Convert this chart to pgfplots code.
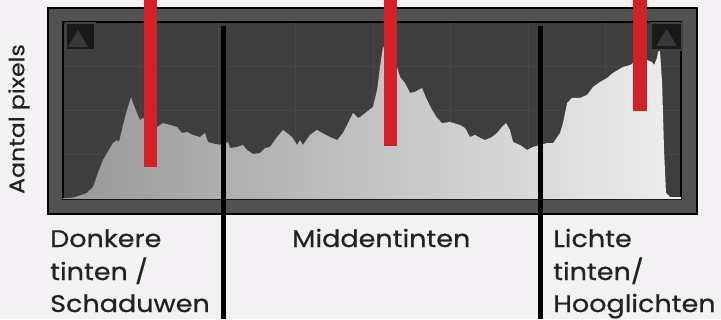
\documentclass[border=0pt]{standalone}
\usepackage{pgfplots}
\usepackage{pgfplotstable}
\pgfplotsset{compat=1.18}
\usepackage{fontspec}
\setmainfont{Poppins}
\newfontfamily\labfont{Poppins}[FakeStretch=1.13, FakeBold=0.6]
\definecolor{bgc}{HTML}{F3F1F3}
\definecolor{framec}{HTML}{525252}
\definecolor{plotbg}{HTML}{3E3E3E}
\definecolor{gridc}{HTML}{474747}
\definecolor{histL}{HTML}{989898}
\definecolor{histR}{HTML}{EEEEEE}
\definecolor{redbar}{HTML}{D22128}
\definecolor{txt}{HTML}{222222}
\pgfplotstableread{
level value
0 0.5
3 0.6
5 1.1
9.9 3.4
12.4 6.8
14.4 14.7
16.5 22.0
18.2 26.0
20.6 31.6
22.3 33.3
23.1 32.2
24.3 39.0
25.6 46.3
26.8 52.0
28.1 57.6
28.9 54.2
30.5 48.6
31.8 44.6
33.0 45.8
35.9 43.5
38.8 40.7
41.3 42.9
44.2 41.8
47.0 40.7
49.1 37.3
51.2 37.9
53.6 36.2
56.5 35.0
58.6 37.3
59.8 32.2
62.7 31.1
65.6 30.5
68.1 32.2
68.9 28.8
71.8 29.4
74.3 30.5
75.9 27.7
78.4 25.4
81.3 26.0
83.4 28.8
85.4 29.4
88.3 35.0
90.8 39.0
92.4 37.3
94.5 35.0
96.6 30.5
97.8 33.3
99.0 30.5
101.9 36.2
104.8 39.0
106.9 37.3
110.2 35.0
113.1 33.3
115.5 37.3
117.6 42.9
119.7 48.6
121.7 45.8
122.6 46.3
127.9 52.0
129.6 61.6
130.8 74.6
132.0 85.9
134.9 83.0
137.8 74.6
139.1 68.9
141.1 65.5
143.2 59.9
145.2 60.5
148.1 62.7
150.2 55.9
152.3 50.3
154.3 45.8
156.4 42.9
159.7 43.5
163.8 41.8
165.9 40.1
167.9 35.0
170.0 36.2
172.1 34.5
174.1 33.3
177.0 35.0
179.1 37.3
181.1 40.7
182.8 42.9
184.4 39.0
185.7 32.2
188.6 30.5
191.5 27.7
193.9 29.4
196.8 30.5
199.7 31.6
202.2 31.6
205.1 37.3
206.3 42.9
208.0 54.2
210.0 57.1
213.3 57.1
216.2 58.8
218.7 63.3
221.6 66.1
224.5 68.4
226.9 71.2
231.1 74.6
234.0 75.7
235.2 76.8
238.1 78.0
241.0 78.5
243.0 77.4
243.9 75.7
245.1 79.7
245.5 83.0
246.3 84.2
247.2 65.5
248.0 27.7
248.8 3.4
250.5 1.1
255 1.1
}\histdata
\begin{document}
\begin{tikzpicture}[x=1bp,y=1bp]
\useasboundingbox (0,0) rectangle (721,319);
\fill[bgc] (0,0) rectangle (721,319);
\fill[framec, draw=black, line width=1.2bp] (48,105) rectangle (697,311);
\begin{axis}[
  at={(63bp,120bp)}, anchor=south west,
  scale only axis, width=618bp, height=177bp,
  xmin=0, xmax=255, ymin=0, ymax=100,
  axis line style={black, line width=1.5bp},
  axis background/.style={fill=plotbg},
  xtick={32,64,96,128,160,192,224}, ytick={25,50,75},
  xticklabels={}, yticklabels={}, major tick length=0pt,
  grid=major, major grid style={gridc, line width=0.8bp},
]
\addplot[draw=none, left color=histL, right color=histR] table[x=level, y=value] {\histdata} \closedcycle;
\end{axis}
% clipping indicator boxes
\fill[black!90, draw=black!75, line width=1.5bp] (66,269) rectangle (95,296);
\fill[gray!45!black] (68,272) -- (88,272) -- (78,289) -- cycle;
\fill[black!90, draw=black!75, line width=1.5bp] (651,269) rectangle (682,296);
\fill[gray!45!black] (656,273) -- (677,273) -- (666.5,290) -- cycle;
% red markers
\fill[redbar] (144,319) rectangle (157,152);
\fill[redbar] (384,319) rectangle (397,173);
\fill[redbar] (633,319) rectangle (647,208);
% black dividers
\fill[black] (221,0) rectangle (226,293);
\fill[black] (538,0) rectangle (543,293);
% labels
\node[txt, rotate=90, inner sep=0pt, font=\labfont\fontsize{21}{24}\selectfont] at (19,200) {Aantal pixels};
\begin{scope}[every node/.style={txt, anchor=base west, inner sep=0pt, font=\labfont\fontsize{24}{28}\selectfont}]
\node at (50,72) {Donkere};
\node at (50,39) {tinten /};
\node at (50,7) {Schaduwen};
\node at (292,72) {Middentinten};
\node at (553,72) {Lichte};
\node at (553,39) {tinten/};
\node at (553,7) {Hooglichten};
\end{scope}
\end{tikzpicture}
\end{document}
